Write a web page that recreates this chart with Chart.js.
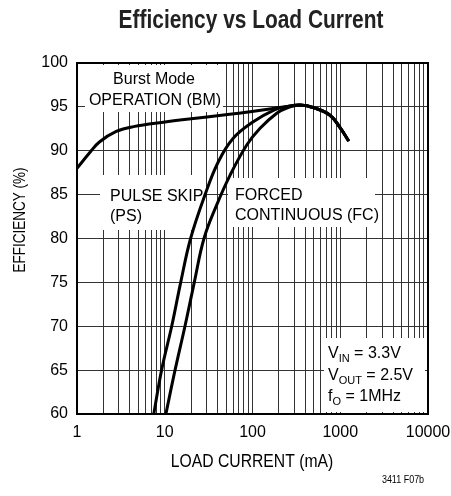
<!DOCTYPE html>
<html>
<head>
<meta charset="utf-8">
<script src="https://cdn.jsdelivr.net/npm/chart.js@4"></script>
<style>
  body { margin: 0; background: #fff; }
</style>
</head>
<body>
<canvas id="myChart" width="451" height="496"></canvas>
<script>
// load current (mA) and efficiency (%)
const burstLoad = [1, 1.4, 1.8, 2.8, 4.4, 10.5, 14.9, 55, 94, 180, 250, 348, 500, 764, 1000, 1250];
const burstEff  = [88, 89.8, 91.0, 92.2, 92.75, 93.3, 93.5, 94.15, 94.45, 94.85, 95.05, 95.2, 94.9, 94.05, 92.6, 91.1];

const pulseLoad = [7.5, 9.2, 12, 15.2, 19.7, 28.8, 40.8, 60, 102, 180, 250, 348, 500, 764, 1000, 1250];
const pulseEff  = [60, 65, 70, 75, 80, 85, 88.75, 91.4, 93.3, 94.7, 95.05, 95.2, 94.9, 94.05, 92.6, 91.1];

const forcedLoad = [10.3, 13.1, 17, 21.7, 28, 39, 55.4, 86, 122, 189, 250, 348, 500, 764, 1000, 1250];
const forcedEff  = [60, 65, 70, 75, 80, 83.8, 87.2, 90.65, 92.56, 94.27, 94.9, 95.2, 94.9, 94.05, 92.6, 91.1];

const xTickLabels = [1, 10, 100, 1000, 10000];
const yTickLabels = [60, 65, 70, 75, 80, 85, 90, 95, 100];

const toPoints = (xs, ys) => xs.map((x, i) => ({ x: x, y: ys[i] }));

// log grid: 1..9 in every decade
const xGrid = [];
xTickLabels.forEach(d => {
  for (let m = 1; m <= 9; m++) {
    if (d * m <= 10000) xGrid.push(d * m);
  }
});

const sans = '"Liberation Sans", Arial, sans-serif';

// condensed text: Liberation Sans squeezed sideways
function narrowText(ctx, text, x, y, font, sx) {
  ctx.save();
  ctx.font = font;
  ctx.translate(x, y);
  ctx.scale(sx, 1);
  ctx.fillText(text, 0, 0);
  ctx.restore();
}

const notes = {
  id: 'notes',
  beforeDatasetsDraw(chart) {
    const ctx = chart.ctx;
    ctx.save();
    ctx.fillStyle = '#fff';
    ctx.fillRect(85, 65, 138, 47);
    ctx.fillRect(100, 175, 105, 55);
    ctx.fillRect(228, 178, 147, 49);
    ctx.fillRect(324, 338, 101, 74);

    ctx.fillStyle = '#000';
    ctx.font = '16px ' + sans;
    ctx.textBaseline = 'alphabetic';
    ctx.textAlign = 'center';
    ctx.fillText('Burst Mode', 154, 84);
    ctx.fillText('OPERATION (BM)', 155, 105);
    ctx.textAlign = 'left';
    ctx.fillText('PULSE SKIP', 110, 201);
    ctx.fillText('(PS)', 110, 221);
    ctx.fillText('FORCED', 235, 200);
    ctx.fillText('CONTINUOUS (FC)', 235, 220);

    const sub = (main, low, rest, x, y) => {
      ctx.font = '16px ' + sans;
      ctx.fillText(main, x, y);
      x += ctx.measureText(main).width;
      ctx.font = '11px ' + sans;
      ctx.fillText(low, x, y + 4);
      x += ctx.measureText(low).width;
      ctx.font = '16px ' + sans;
      ctx.fillText(rest, x, y);
    };
    sub('V', 'IN', ' = 3.3V', 328, 358);
    sub('V', 'OUT', ' = 2.5V', 328, 380);
    sub('f', 'O', ' = 1MHz', 328, 401);
    ctx.restore();
  },
  afterDraw(chart) {
    const ctx = chart.ctx;
    const a = chart.chartArea;
    ctx.save();
    ctx.strokeStyle = '#000';
    ctx.lineWidth = 2;
    ctx.strokeRect(a.left, a.top, a.right - a.left, a.bottom - a.top);

    ctx.textAlign = 'center';
    ctx.textBaseline = 'alphabetic';
    ctx.fillStyle = '#222';
    narrowText(ctx, 'Efficiency vs Load Current', 251, 28, 'bold 25px ' + sans, 0.836);

    ctx.fillStyle = '#000';
    narrowText(ctx, 'LOAD CURRENT (mA)', 252, 467, '18.5px ' + sans, 0.85);
    narrowText(ctx, '3411 F07b', 403, 483, '11.5px ' + sans, 0.78);

    ctx.save();
    ctx.translate(25, 220);
    ctx.rotate(-Math.PI / 2);
    narrowText(ctx, 'EFFICIENCY (%)', 0, 0, '16.3px ' + sans, 0.83);
    ctx.restore();
    ctx.restore();
  }
};

const curve = (data) => ({
  data: data,
  showLine: true,
  borderColor: '#000',
  borderWidth: 3,
  pointRadius: 0,
  tension: 0.4,
  fill: false
});

new Chart(document.getElementById('myChart'), {
  type: 'scatter',
  data: {
    datasets: [
      curve(toPoints(burstLoad, burstEff)),
      curve(toPoints(pulseLoad, pulseEff)),
      curve(toPoints(forcedLoad, forcedEff))
    ]
  },
  options: {
    responsive: false,
    devicePixelRatio: 1,
    animation: false,
    layout: { padding: { top: 63, right: 23, left: 0, bottom: 0 } },
    plugins: {
      legend: { display: false },
      tooltip: { enabled: false }
    },
    scales: {
      x: {
        type: 'logarithmic',
        min: 1,
        max: 10000,
        afterBuildTicks: (scale) => { scale.ticks = xGrid.map(v => ({ value: v })); },
        afterFit: (scale) => {
          scale.height = 82;
          scale.paddingLeft = 0;
          scale.paddingRight = 0;
        },
        grid: { color: '#333', lineWidth: 1, drawTicks: false },
        border: { display: false },
        ticks: {
          autoSkip: false,
          maxRotation: 0,
          padding: 9,
          color: '#000',
          font: { family: sans, size: 16 },
          callback: (v) => xTickLabels.includes(v) ? String(v) : ''
        }
      },
      y: {
        min: 60,
        max: 100,
        afterBuildTicks: (scale) => { scale.ticks = yTickLabels.map(v => ({ value: v })); },
        afterFit: (scale) => {
          scale.width = 77;
          scale.paddingTop = 0;
          scale.paddingBottom = 0;
        },
        grid: { color: '#333', lineWidth: 1, drawTicks: false },
        border: { display: false },
        ticks: {
          padding: 9,
          color: '#000',
          font: { family: sans, size: 16 }
        }
      }
    }
  },
  plugins: [notes]
});
</script>
</body>
</html>
